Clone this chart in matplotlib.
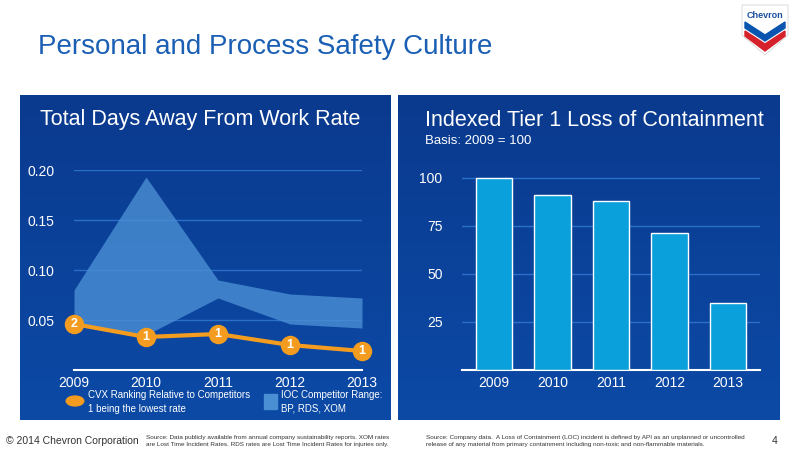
import matplotlib
matplotlib.use("Agg")
import matplotlib.pyplot as plt
import numpy as np
from matplotlib.patches import Rectangle, Polygon
from matplotlib.colors import LinearSegmentedColormap

plt.rcParams['font.family'] = ['Liberation Sans', 'DejaVu Sans']

years = [2009, 2010, 2011, 2012, 2013]
band_low = [0.045, 0.035, 0.072, 0.046, 0.042]
band_high = [0.080, 0.193, 0.090, 0.076, 0.072]
cvx = [0.046, 0.033, 0.036, 0.025, 0.019]
ranks = ["2", "1", "1", "1", "1"]
loc_index = [100, 91, 88, 71, 35]

fig = plt.figure(figsize=(8, 4.5), dpi=100)
fig.patch.set_facecolor("white")
W, H = 800, 450
def fx(x): return x / W
def fy(y): return 1 - y / H

grad = np.linspace(0, 1, 256).reshape(-1, 1)
cmap = LinearSegmentedColormap.from_list("g", ["#0a3a8e", "#0c4aa6"])
for (x0, x1) in [(20, 390), (398, 780)]:
    ax_bg = fig.add_axes([fx(x0), fy(420), fx(x1 - x0), (420 - 95) / H])
    ax_bg.imshow(grad, aspect="auto", cmap=cmap, extent=[0, 1, 0, 1])
    ax_bg.axis("off")

fig.text(fx(38), fy(47), "Personal and Process Safety Culture", color="#1a5fb4",
         fontsize=20, va="center")
fig.text(fx(40), fy(120), "Total Days Away From Work Rate", color="white",
         fontsize=15.5, va="center")
fig.text(fx(425), fy(120), "Indexed Tier 1 Loss of Containment", color="white",
         fontsize=15.5, va="center")
fig.text(fx(425), fy(141), "Basis: 2009 = 100", color="white",
         fontsize=9.5, va="center")

# Left chart
axL = fig.add_axes([fx(74), fy(370), fx(362 - 74), (370 - 173) / H * (0.20 / 0.197)])
axL.set_facecolor("none")
axL.set_xlim(2009, 2013)
axL.set_ylim(0, 0.20)
axL.fill_between(years, band_low, band_high, color="#4a8fd4", alpha=0.8, lw=0)
axL.plot(years, cvx, color="#f39c1f", lw=3, marker="o", ms=13, clip_on=False, zorder=3)
for x, y, r in zip(years, cvx, ranks):
    axL.text(x, y, r, color="white", ha="center", va="center", fontsize=9,
             fontweight="bold", zorder=4)
axL.set_yticks([0.05, 0.10, 0.15, 0.20])
axL.set_yticklabels(["0.05", "0.10", "0.15", "0.20"])
axL.set_xticks(years)
for s in ["top", "right", "left"]:
    axL.spines[s].set_visible(False)
axL.spines["bottom"].set_color("white")
axL.spines["bottom"].set_linewidth(1.5)
axL.grid(axis="y", color="#2a6fc8", lw=1)
axL.set_axisbelow(True)
axL.tick_params(colors="white", length=0, labelsize=10, pad=4)
axL.tick_params(axis="y", pad=14)

fig.patches.append(plt.Circle((fx(75), fy(401)), 0.011, transform=fig.transFigure,
                              color="#f39c1f"))
fig.text(fx(88), fy(402), "CVX Ranking Relative to Competitors\n1 being the lowest rate",
         color="white", fontsize=7, va="center", linespacing=1.4)
fig.patches.append(Rectangle((fx(264), fy(409)), fx(13), 15 / H, transform=fig.transFigure,
                             color="#4a8fd4"))
fig.text(fx(281), fy(402), "IOC Competitor Range:\nBP, RDS, XOM",
         color="white", fontsize=7, va="center", linespacing=1.4)

# Right chart
axR = fig.add_axes([fx(462), fy(370), fx(760 - 462), (370 - 170) / H])
axR.set_facecolor("none")
xs = np.arange(len(years))
axR.bar(xs, loc_index, width=0.62, color="#0aa0dc", edgecolor="white", lw=1, zorder=3)
axR.set_xlim(-0.55, 4.55)
axR.set_ylim(0, 104)
axR.set_yticks([25, 50, 75, 100])
axR.set_xticks(xs)
axR.set_xticklabels([str(y) for y in years])
for s in ["top", "right", "left"]:
    axR.spines[s].set_visible(False)
axR.spines["bottom"].set_color("white")
axR.spines["bottom"].set_linewidth(1.5)
axR.grid(axis="y", color="#2a6fc8", lw=1)
axR.set_axisbelow(True)
axR.tick_params(colors="white", length=0, labelsize=10, pad=4)
axR.tick_params(axis="y", pad=14)

# Footer
fig.text(fx(6), fy(441), "© 2014 Chevron Corporation", color="#333333", fontsize=7.5,
         va="center")
fig.text(fx(146), fy(441), "Source: Data publicly available from annual company sustainability reports. XOM rates\n"
         "are Lost Time Incident Rates. RDS rates are Lost Time Incident Rates for injuries only.",
         color="#333333", fontsize=4.6, va="center", linespacing=1.4)
fig.text(fx(426), fy(441), "Source: Company data.  A Loss of Containment (LOC) incident is defined by API as an unplanned or uncontrolled\n"
         "release of any material from primary containment including non-toxic and non-flammable materials.",
         color="#333333", fontsize=4.6, va="center", linespacing=1.4)
fig.text(fx(778), fy(441), "4", color="#333333", fontsize=7.5, va="center", ha="right")

lx, ly = 742, 5
fig.patches.append(Polygon([(fx(lx), fy(ly)), (fx(lx + 46), fy(ly)), (fx(lx + 46), fy(ly + 30)),
                            (fx(lx + 23), fy(ly + 50)), (fx(lx), fy(ly + 30))],
                           transform=fig.transFigure, color="white", ec="#cccccc", lw=0.5))
fig.text(fx(lx + 23), fy(ly + 10), "Chevron", color="#1a4fa0", fontsize=6.5, fontweight="bold",
         ha="center", va="center")
fig.patches.append(Polygon([(fx(lx + 3), fy(ly + 17)), (fx(lx + 23), fy(ly + 30)), (fx(lx + 43), fy(ly + 17)),
                            (fx(lx + 43), fy(ly + 23)), (fx(lx + 23), fy(ly + 36)), (fx(lx + 3), fy(ly + 23))],
                           transform=fig.transFigure, color="#0a55b0"))
fig.patches.append(Polygon([(fx(lx + 3), fy(ly + 26)), (fx(lx + 23), fy(ly + 39)), (fx(lx + 43), fy(ly + 26)),
                            (fx(lx + 43), fy(ly + 31)), (fx(lx + 23), fy(ly + 46)), (fx(lx + 3), fy(ly + 31))],
                           transform=fig.transFigure, color="#d6202a"))

fig.savefig("out.png", dpi=100)
